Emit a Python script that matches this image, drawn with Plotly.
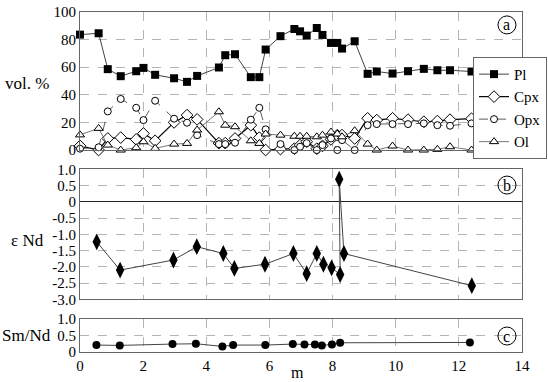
import plotly.graph_objects as go
from plotly.subplots import make_subplots

# ---------------- data ----------------
depth_a = [0, 0.59, 0.88, 1.29, 1.78, 2.01, 2.38, 2.98, 3.39, 3.71, 4.40, 4.60, 4.91, 5.41, 5.68, 5.88,
           6.35, 6.79, 6.97, 7.18, 7.50, 7.68, 7.95, 8.15, 8.30, 8.70, 9.11, 9.40, 9.90, 10.39, 10.89,
           11.32, 11.72, 12.40]
pl = [83.6, 84.6, 58.6, 53.5, 57.1, 59.5, 54.5, 52, 49.4, 53.7, 59.8, 68.7, 69.4, 52.8, 52.8, 72.8,
      82.5, 87.7, 86, 82.9, 88.4, 83.4, 77.6, 77.6, 73.5, 78.8, 55.2, 56.9, 55.4, 57.1, 58.8, 57.8, 57.8, 56.9]
cpx = [3, 0, 8.4, 9, 7.7, 12, 6.7, 20, 25.3, 22.2, 5, 5, 8.4, 18, 9, 0,
       0.7, 1, 3.6, 6, 1, 3, 7.7, 10.8, 10.8, 8.4, 23, 21.7, 23, 22, 20.5, 21, 22, 22.7]
opx = [1, 2, 28, 37, 30.6, 21.7, 35.7, 22.7, 19.8, 10.8, 4.3, 4.3, 5.3, 22, 30.6, 15,
       4.3, 0, 2.4, 5, 0, 3.6, 8.4, 0, 7.2, 0, 18, 18.8, 18.8, 18.8, 19.3, 18, 17.6, 19.3]
ol = [11, 15.7, 3.6, 0, 1.7, 6, 1.2, 4.3, 4.8, 14.5, 27.7, 18, 16.9, 6.7, 4.8, 11.6,
      10.8, 10, 10, 10, 9.6, 10.8, 13, 11.6, 9.6, 14, 4.3, 0, 2.9, 0, 0, 0.5, 2.4, 0]

depth_b = [0.53, 1.27, 2.96, 3.70, 4.54, 4.89, 5.86, 6.76, 7.18, 7.50, 7.71, 7.97, 8.24, 8.21, 8.36, 12.41]
eps_nd = [-1.23, -2.10, -1.79, -1.38, -1.59, -2.05, -1.92, -1.59, -2.21, -1.59, -1.92, -2.03, -2.24,
          0.70, -1.59, -2.58]

depth_c = [0.52, 1.26, 2.93, 3.67, 4.51, 4.85, 5.87, 6.74, 7.11, 7.44, 7.66, 7.98, 8.24, 12.35]
sm_nd = [0.21, 0.20, 0.24, 0.25, 0.17, 0.21, 0.21, 0.24, 0.23, 0.23, 0.20, 0.23, 0.28, 0.29]

x_ticks = [0, 2, 4, 6, 8, 10, 12, 14]
a_ticks = [0, 20, 40, 60, 80, 100]
b_ticks = [1.0, 0.5, 0, -0.5, -1.0, -1.5, -2.0, -2.5, -3.0]
b_ticktext = ["1.0", "0.5", "0", "-0.5", "-1.0", "-1.5", "-2.0", "-2.5", "-3.0"]
c_ticks = [0, 0.5, 1.0]
c_ticktext = ["0", "0.5", "1.0"]

FONT = "Liberation Serif, Times New Roman, serif"
GRID = "#b4b4b4"

fig = make_subplots(rows=3, cols=1, shared_xaxes=True, vertical_spacing=0.0)

fig.add_trace(go.Scatter(x=depth_a, y=pl, name="Pl", mode="lines+markers",
                         line=dict(color="#444", width=1),
                         marker=dict(symbol="square", size=8, color="black"),
                         cliponaxis=False), row=1, col=1)
fig.add_trace(go.Scatter(x=depth_a, y=cpx, name="Cpx", mode="lines+markers",
                         line=dict(color="black", width=1.2),
                         marker=dict(symbol="diamond", size=9, color="white",
                                     line=dict(color="black", width=1)),
                         cliponaxis=False), row=1, col=1)
fig.add_trace(go.Scatter(x=depth_a, y=opx, name="Opx", mode="lines+markers",
                         line=dict(color="#333", width=0.8, dash="dash"),
                         marker=dict(symbol="circle", size=7, color="white",
                                     line=dict(color="black", width=1)),
                         cliponaxis=False), row=1, col=1)
fig.add_trace(go.Scatter(x=depth_a, y=ol, name="Ol", mode="lines+markers",
                         line=dict(color="#555", width=0.8),
                         marker=dict(symbol="triangle-up", size=8, color="white",
                                     line=dict(color="black", width=1)),
                         cliponaxis=False), row=1, col=1)

fig.add_trace(go.Scatter(x=depth_b, y=eps_nd, mode="lines+markers", showlegend=False,
                         line=dict(color="#444", width=1),
                         marker=dict(symbol="diamond-tall", size=12, color="black"),
                         cliponaxis=False), row=2, col=1)

fig.add_trace(go.Scatter(x=depth_c, y=sm_nd, mode="lines+markers", showlegend=False,
                         line=dict(color="#444", width=1),
                         marker=dict(symbol="circle", size=8, color="black"),
                         cliponaxis=False), row=3, col=1)

axcommon = dict(showline=True, mirror=True, linecolor="#666", linewidth=1,
                showgrid=True, gridcolor=GRID, griddash="dash", gridwidth=1,
                ticks="", automargin=False,
                tickfont=dict(family=FONT, size=15, color="black"))

fig.update_xaxes(range=[0, 14], tickvals=x_ticks, **axcommon)
fig.update_xaxes(showticklabels=False, row=1, col=1)
fig.update_xaxes(showticklabels=False, row=2, col=1)

fig.update_yaxes(range=[0, 100], tickvals=a_ticks, zeroline=True, zerolinecolor="black",
                 zerolinewidth=1.5, domain=[0.594, 1.0], row=1, col=1, **axcommon)
fig.update_yaxes(range=[-3, 1], tickvals=b_ticks, ticktext=b_ticktext, zeroline=True,
                 zerolinecolor="#222", zerolinewidth=1.3, domain=[0.155, 0.537],
                 row=2, col=1, **axcommon)
fig.update_yaxes(range=[0, 1], tickvals=c_ticks, ticktext=c_ticktext, zeroline=False,
                 domain=[0.0, 0.097], row=3, col=1, **axcommon)

annots = [
    dict(text="vol. %", x=-0.12, y=0.791, size=17),
    dict(text="ε Nd", x=-0.118, y=0.329, size=17),
    dict(text="Sm/Nd", x=-0.12, y=0.05, size=17),
    dict(text="m", x=0.493, y=-0.059, size=16),
    dict(text="a", x=0.966, y=0.962, size=16),
    dict(text="b", x=0.966, y=0.491, size=16),
    dict(text="c", x=0.966, y=0.047, size=16),
]
for a in annots:
    fig.add_annotation(xref="paper", yref="paper", showarrow=False,
                       xanchor="center", yanchor="middle", text=a["text"], x=a["x"], y=a["y"],
                       font=dict(family=FONT, size=a["size"], color="black"))

for yc in [0.962, 0.491, 0.047]:
    fig.add_shape(type="circle", xref="paper", yref="paper", xsizemode="pixel", ysizemode="pixel",
                  xanchor=0.966, yanchor=yc, x0=-9, x1=9, y0=-9, y1=9,
                  line=dict(color="black", width=1), fillcolor="rgba(0,0,0,0)")

fig.update_layout(
    width=548, height=382,
    margin=dict(l=80, r=26, t=12, b=30, autoexpand=False),
    paper_bgcolor="white", plot_bgcolor="white",
    font=dict(family=FONT, size=15, color="black"),
    hovermode=False,
    legend=dict(x=1.0566, y=0.718, xanchor="right", yanchor="middle",
                bgcolor="white", bordercolor="#666", borderwidth=1,
                font=dict(family=FONT, size=15), tracegroupgap=0,
                itemwidth=30),
)

fig.write_html("out.html", config={"displayModeBar": False},
               post_script="document.body.style.margin='0';")
